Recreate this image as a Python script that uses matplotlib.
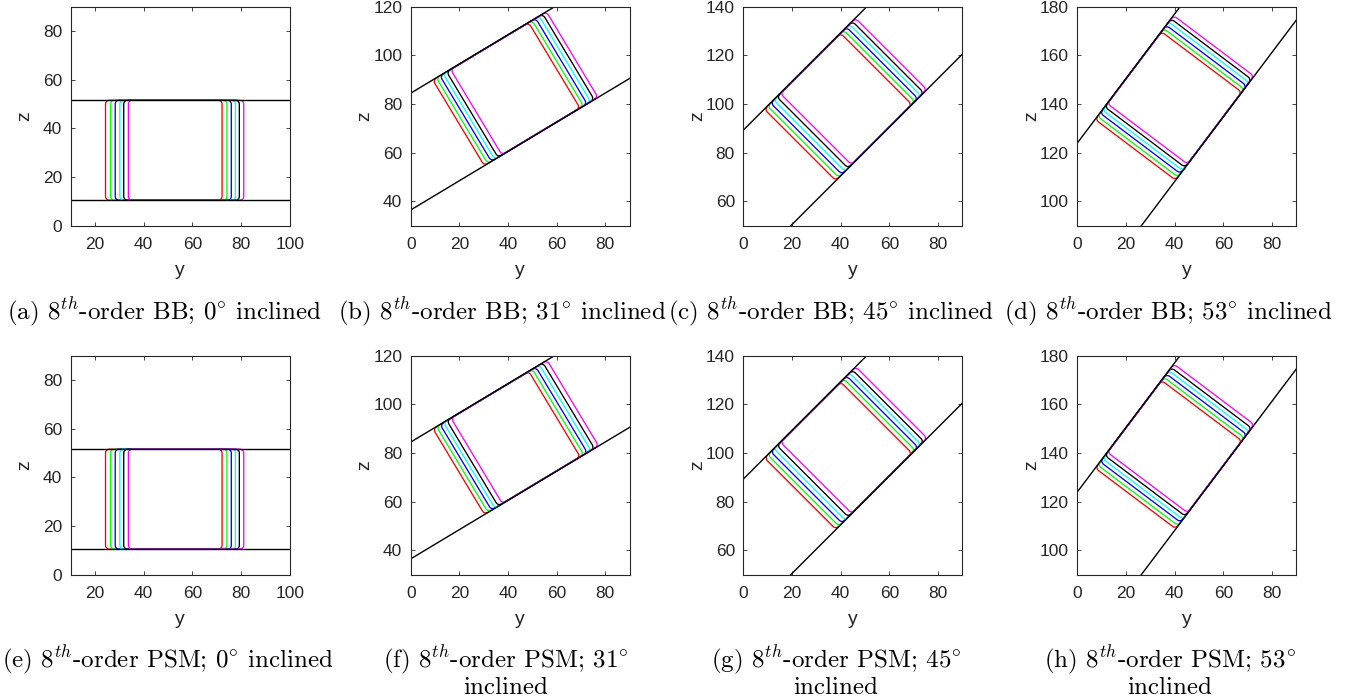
import numpy as np
import matplotlib
matplotlib.use("Agg")
import matplotlib.pyplot as plt

plt.rcParams['font.family'] = ['Liberation Sans', 'DejaVu Sans']
plt.rcParams['mathtext.fontset'] = 'cm'

# channel inclination for each column
angles = [0, 31, 45, 53]
# z-intercepts (at y = 0) of the lower and upper channel walls
wall_lower = [10.4, 36.5, 30.5, 55.1]
wall_upper = [51.7, 84.5, 89.3, 124.0]

xlims = [(10, 100), (0, 90), (0, 90), (0, 90)]
ylims = [(0, 90), (30, 120), (50, 140), (90, 180)]
xticks = [[20, 40, 60, 80, 100], [0, 20, 40, 60, 80], [0, 20, 40, 60, 80], [0, 20, 40, 60, 80]]
yticks = [[0, 20, 40, 60, 80], [40, 60, 80, 100, 120], [60, 80, 100, 120, 140],
          [100, 120, 140, 160, 180]]

# snapshot colours (red, green, blue, cyan, black, magenta)
colors = ['#ff0000', '#00ff00', '#0000ff', '#00ffff', '#000000', '#ff00ff']

# rear / front interface positions along the lower wall, one value per snapshot
bb_rear = [[24.3, 26.4, 28.3, 30.2, 31.8, 33.7],
           [35.3, 37.0, 38.7, 40.3, 41.9, 43.8],
           [53.8, 55.6, 57.4, 59.2, 61.0, 63.0],
           [67.2, 68.8, 70.5, 72.1, 73.7, 75.4]]
bb_front = [[72.2, 74.2, 76.0, 77.7, 79.3, 81.1],
            [81.2, 82.9, 84.6, 86.3, 88.0, 89.8],
            [98.0, 99.8, 101.5, 103.2, 104.9, 106.7],
            [112.4, 114.0, 115.7, 117.4, 119.0, 120.7]]
psm_rear = [[24.3, 26.4, 28.3, 30.2, 31.8, 33.7],
            [35.4, 37.1, 38.8, 40.4, 42.0, 44.0],
            [53.9, 55.7, 57.5, 59.3, 61.1, 63.1],
            [67.3, 68.9, 70.6, 72.2, 73.8, 75.5]]
psm_front = [[72.2, 74.2, 76.0, 77.7, 79.3, 81.1],
             [81.3, 83.0, 84.7, 86.4, 88.1, 90.1],
             [98.1, 99.9, 101.6, 103.3, 105.0, 106.9],
             [112.5, 114.1, 115.8, 117.5, 119.1, 120.9]]

captions_bb = [r"(a) $8^{th}$-order BB; $0^{\circ}$ inclined",
               r"(b) $8^{th}$-order BB; $31^{\circ}$ inclined",
               r"(c) $8^{th}$-order BB; $45^{\circ}$ inclined",
               r"(d) $8^{th}$-order BB; $53^{\circ}$ inclined"]
captions_psm = [[r"(e) $8^{th}$-order PSM; $0^{\circ}$ inclined"],
                [r"(f) $8^{th}$-order PSM; $31^{\circ}$", "inclined"],
                [r"(g) $8^{th}$-order PSM; $45^{\circ}$", "inclined"],
                [r"(h) $8^{th}$-order PSM; $53^{\circ}$", "inclined"]]

CORNER = 1.6


def rounded_box(s0, s1, n0, n1, r, m=12):
    """Closed rounded rectangle in channel coordinates (s along, n across)."""
    t = np.linspace(0, np.pi / 2, m)
    pts = []
    for cs, cn, a0 in [(s1 - r, n0 + r, -np.pi / 2), (s1 - r, n1 - r, 0.0),
                       (s0 + r, n1 - r, np.pi / 2), (s0 + r, n0 + r, np.pi)]:
        pts.append(np.column_stack([cs + r * np.cos(a0 + t), cn + r * np.sin(a0 + t)]))
    pts = np.vstack(pts + [pts[0][:1]])
    return pts[:, 0], pts[:, 1]


def to_yz(s, n, theta, b):
    c, sn = np.cos(theta), np.sin(theta)
    return s * c - n * sn, b + s * sn + n * c


W_PX, H_PX = 1350, 700
fig = plt.figure(figsize=(W_PX / 100, H_PX / 100), dpi=100)

ax_left = [70.7, 410.7, 743.3, 1077.3]
ax_w = 219.0
row_top = [6.8, 355.7]
cap_centers = [[164, 502, 831, 1168], [168, 506, 836, 1170]]
AX_COL = '#262626'
CAP_SIZE = 18.0

for row, (rears, fronts) in enumerate([(bb_rear, bb_front), (psm_rear, psm_front)]):
    for k in range(4):
        ax = fig.add_axes([ax_left[k] / W_PX, 1 - (row_top[row] + ax_w) / H_PX,
                           ax_w / W_PX, ax_w / H_PX])
        th = np.deg2rad(angles[k])
        width = (wall_upper[k] - wall_lower[k]) * np.cos(th)
        for j, col in enumerate(colors):
            s, n = rounded_box(rears[k][j], fronts[k][j], 0.1, width - 0.1, CORNER)
            y, z = to_yz(s, n, th, wall_lower[k])
            ax.plot(y, z, color=col, lw=0.95, solid_joinstyle='round')
        yy = np.array(xlims[k], dtype=float)
        for b in (wall_lower[k], wall_upper[k]):
            ax.plot(yy, b + np.tan(th) * yy, color='k', lw=1.0)
        ax.set_xlim(*xlims[k])
        ax.set_ylim(*ylims[k])
        ax.set_xticks(xticks[k])
        ax.set_yticks(yticks[k])
        ax.tick_params(direction='in', length=3, width=0.6, top=True, right=True,
                       labelsize=12.5, colors=AX_COL)
        ax.tick_params(axis='x', pad=8)
        ax.tick_params(axis='y', pad=6)
        for sp in ax.spines.values():
            sp.set_color(AX_COL)
            sp.set_linewidth(0.8)
        ax.set_xlabel('y', fontsize=14, color=AX_COL)
        ax.set_ylabel('z', fontsize=14, color=AX_COL)
        ax.xaxis.set_label_coords(0.5, -(270 - 225.7) / ax_w)
        ax.xaxis.label.set_verticalalignment('center')
        ax.yaxis.set_label_coords(-45.7 / ax_w, 0.5)
        ax.yaxis.label.set_verticalalignment('center')

    # sub-figure captions
    if row == 0:
        for k in range(4):
            fig.text(cap_centers[0][k] / W_PX, 1 - 311.7 / H_PX, captions_bb[k],
                     ha='center', va='center', family='cmr10', fontsize=CAP_SIZE)
    else:
        for k in range(4):
            for li, line in enumerate(captions_psm[k]):
                fig.text(cap_centers[1][k] / W_PX, 1 - (660 + 28 * li) / H_PX, line,
                         ha='center', va='center', family='cmr10', fontsize=CAP_SIZE)

fig.savefig('out.png', dpi=100, facecolor='white')
